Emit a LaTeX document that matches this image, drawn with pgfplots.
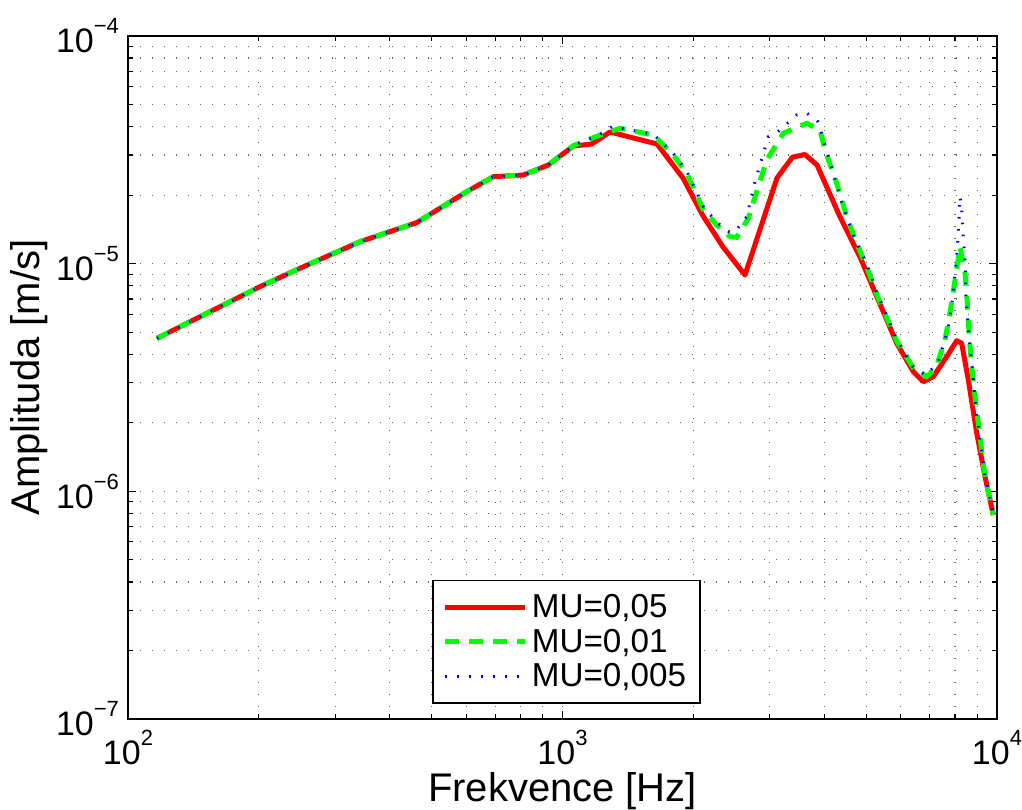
\documentclass[border=0pt]{standalone}
\usepackage{pgfplots}
\pgfplotsset{compat=1.18}
\usepackage{fontspec}
\setmainfont{Liberation Sans}
\newcommand\tenpow[1]{10\raisebox{9.5pt}{\fontsize{11}{11}\selectfont #1}}
\begin{document}
\begin{tikzpicture}
\begin{axis}[
  name=ax,
  scale only axis,
  width=434.5pt, height=341.5pt,
  xmode=log, ymode=log,
  xmin=100, xmax=10000, ymin=1e-7, ymax=1e-4,
  xtick={100,1000,10000},
  xticklabels={\tenpow{2},\tenpow{3},\tenpow{4}},
  ytick={1e-7,1e-6,1e-5,1e-4},
  yticklabels={\tenpow{−7},\tenpow{−6},\tenpow{−5},\tenpow{−4}},
  tick label style={font=\fontsize{17}{17}\selectfont},
  xticklabel style={yshift=-2pt},
  yticklabel style={xshift=-1pt},
  tick align=inside,
  major tick length=4pt, minor tick length=2.5pt,
  every tick/.style={black, line width=0.6pt},
  axis line style={black, line width=0.8pt},
  grid=both,
  major grid style={black!60, line width=0.6pt, dash pattern=on 0.6pt off 5.4pt},
  minor grid style={black!60, line width=0.6pt, dash pattern=on 0.6pt off 5.4pt},
  xlabel={Frekvence [Hz]},
  ylabel={Amplituda [m/s]},
  label style={font=\fontsize{20}{20}\selectfont},
  xlabel style={at={(axis description cs:0.5,-0.106)}, anchor=center},
  ylabel style={at={(axis description cs:-0.114,0.5)}, anchor=center},
  legend cell align=left,
  legend style={at={(axis description cs:0.350,0.022)}, anchor=south west,
    font=\fontsize{16.6}{19.3}\selectfont, draw=black, line width=0.8pt,
    inner xsep=5pt, inner ysep=5pt, row sep=0pt},
  legend image code/.code={\draw[#1] (0pt,0pt) -- (40pt,0pt);},
]
\addplot[red, line width=2.5pt, line join=round] coordinates {
(116.6,4.70e-6) (201.3,7.93e-6) (248.8,9.545e-6) (342.0,1.249e-5) (461.6,1.514e-5)
(601.9,2.071e-5) (692.9,2.41e-5) (812.3,2.452e-5) (927.9,2.714e-5) (1059,3.288e-5)
(1168,3.355e-5) (1286,3.789e-5) (1650,3.355e-5) (1894,2.378e-5) (2106,1.621e-5)
(2341,1.184e-5) (2630,8.92e-6) (3116,2.378e-5) (3383,2.94e-5) (3615,3.016e-5)
(3853,2.714e-5) (4353,1.604e-5) (4838,1.070e-5) (5293,7.14e-6) (5878,4.47e-6)
(6419,3.355e-6) (6767,3.032e-6) (7134,3.19e-6) (7660,3.905e-6) (8077,4.59e-6)
(8293,4.47e-6) (8590,3.084e-6) (8980,1.805e-6) (9384,1.16e-6) (9806,7.87e-7)
};
\addlegendentry{MU=0,05}
\addplot[color={rgb,1:red,0;green,1;blue,0}, line width=2.5pt, dash pattern=on 7pt off 5pt] coordinates {
(116.6,4.70e-6) (201.3,7.93e-6) (248.8,9.545e-6) (342.0,1.249e-5) (461.6,1.514e-5)
(601.9,2.071e-5) (692.9,2.41e-5) (812.3,2.452e-5) (927.9,2.714e-5) (1059,3.30e-5)
(1220,3.674e-5) (1356,3.933e-5) (1618,3.674e-5) (1799,3.001e-5) (1931,2.502e-5)
(2110,1.721e-5) (2264,1.479e-5) (2429,1.314e-5) (2517,1.306e-5) (2677,1.583e-5)
(2822,2.179e-5) (2951,2.853e-5) (3223,3.74e-5) (3648,4.136e-5) (3914,3.866e-5)
(4019,3.157e-5) (4276,2.255e-5) (4510,1.608e-5) (4754,1.229e-5) (5013,9.70e-6)
(5293,7.29e-6) (5878,4.575e-6) (6419,3.482e-6) (6889,3.19e-6) (7237,3.482e-6)
(7591,4.62e-6) (7795,6.073e-6) (8004,8.48e-6) (8221,1.188e-5) (8441,9.10e-6)
(8543,6.72e-6) (8634,4.78e-6) (8744,3.53e-6) (8900,2.605e-6) (9384,1.16e-6) (9806,7.87e-7)
};
\addlegendentry{MU=0,01}
\addplot[blue, line width=1.5pt, dash pattern=on 0.8pt off 5.2pt] coordinates {
(116.6,4.70e-6) (201.3,7.93e-6) (248.8,9.545e-6) (342.0,1.249e-5) (461.6,1.514e-5)
(601.9,2.071e-5) (692.9,2.41e-5) (812.3,2.452e-5) (927.9,2.714e-5) (1059,3.30e-5)
(1220,3.70e-5) (1300,4.0e-5) (1618,3.70e-5) (1799,3.05e-5) (1931,2.55e-5)
(2110,1.78e-5) (2264,1.52e-5) (2420,1.38e-5) (2495,1.382e-5) (2654,1.608e-5)
(2773,2.291e-5) (2977,3.612e-5) (3133,3.8e-5) (3459,4.497e-5) (3648,4.588e-5)
(3873,4.203e-5) (4019,3.321e-5) (4165,2.633e-5) (4391,1.873e-5) (4663,1.337e-5)
(5013,9.97e-6) (5293,7.43e-6) (5878,4.62e-6) (6419,3.5e-6) (6864,3.244e-6)
(7315,3.664e-6) (7725,5.22e-6) (7865,6.47e-6) (8077,1.073e-5) (8146,1.364e-5)
(8221,1.969e-5) (8293,1.721e-5) (8364,1.314e-5) (8441,1.038e-5) (8483,7.16e-6)
(8590,5.115e-6) (8700,4.053e-6) (8822,3.084e-6) (8980,2.165e-6) (9384,1.18e-6) (9806,8.0e-7)
};
\addlegendentry{MU=0,005}
\end{axis}
\pgfresetboundingbox
\path ([shift={(-64pt,-45pt)}]ax.south west) rectangle ([shift={(12.5pt,18pt)}]ax.north east);
\end{tikzpicture}
\end{document}
